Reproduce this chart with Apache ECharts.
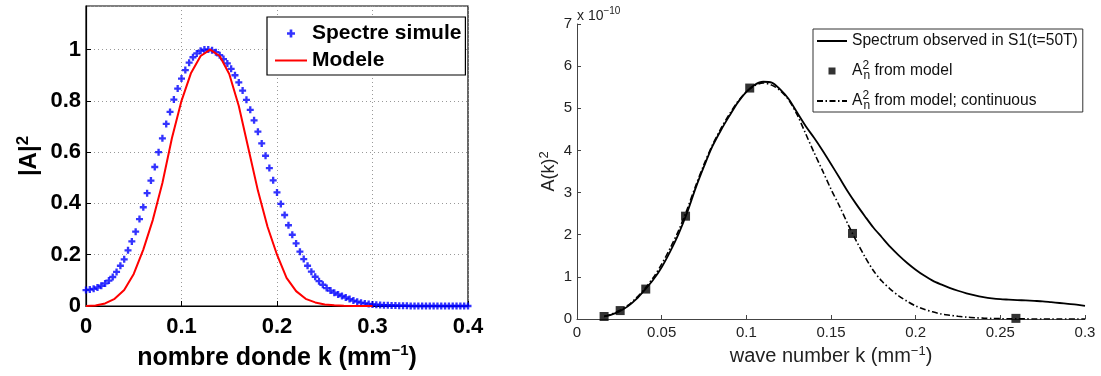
<!DOCTYPE html>
<html>
<head>
<meta charset="utf-8">
<script src="https://cdn.jsdelivr.net/npm/echarts@6/dist/echarts.min.js"></script>
<style>
  html, body { margin: 0; padding: 0; background: #fff; }
  #chart { width: 1101px; height: 376px; }
</style>
</head>
<body>
<div id="chart"></div>
<script>
// left panel: simulated spectrum vs model
const kSim = [0,0.004,0.008,0.012,0.016,0.02,0.024,0.028,0.032,0.036,0.04,0.044,0.048,0.052,0.056,0.06,0.064,0.068,0.072,0.076,
  0.08,0.084,0.088,0.092,0.096,0.1,0.104,0.108,0.112,0.116,0.12,0.124,0.128,0.132,0.136,0.14,0.144,0.148,0.152,0.156,
  0.16,0.164,0.168,0.172,0.176,0.18,0.184,0.188,0.192,0.196,0.2,0.204,0.208,0.212,0.216,0.22,0.224,0.228,0.232,0.236,
  0.24,0.244,0.248,0.252,0.256,0.26,0.264,0.268,0.272,0.276,0.28,0.284,0.288,0.292,0.296,0.3,0.304,0.308,0.312,0.316,
  0.32,0.324,0.328,0.332,0.336,0.34,0.344,0.348,0.352,0.356,0.36,0.364,0.368,0.372,0.376,0.38,0.384,0.388,0.392,0.396,0.4]
const spectreSimule = [0.062,0.064,0.067,0.072,0.079,0.088,0.099,0.113,0.133,0.157,
  0.182,0.217,0.252,0.290,0.339,0.385,0.440,0.489,0.542,0.600,
  0.654,0.710,0.757,0.805,0.848,0.887,0.920,0.949,0.970,0.985,
  0.995,1.000,1.000,0.997,0.990,0.978,0.963,0.946,0.925,0.900,
  0.872,0.840,0.804,0.765,0.724,0.680,0.634,0.586,0.538,0.490,
  0.443,0.398,0.355,0.315,0.278,0.244,0.212,0.183,0.157,0.134,
  0.114,0.097,0.083,0.070,0.060,0.052,0.045,0.039,0.033,0.027,
  0.021,0.017,0.013,0.010,0.008,0.006,0.005,0.004,0.003,0.003,
  0.002,0.002,0.001,0.001,0.001,0,0,0,0,0,
  0,0,0,0,0,0,0,0,0,0,
  0]
const kModele = [0,0.01,0.02,0.03,0.04,0.05,0.06,0.07,0.08,0.09,0.1,0.11,0.12,0.13,0.14,0.15,
  0.16,0.17,0.18,0.19,0.2,0.21,0.22,0.23,0.24,0.25,0.26,0.27,0.28,0.29,0.3]
const modele = [0,0.002,0.010,0.028,0.062,0.125,0.220,0.336,0.480,0.655,0.800,0.909,0.975,1.000,0.975,0.905,
  0.780,0.615,0.450,0.310,0.200,0.110,0.058,0.028,0.014,0.006,0.003,0.001,0,0,0]

// right panel: observed spectrum vs A_n^2
const kObs = [0.016,0.02,0.025,0.03,0.035,0.04,0.045,0.05,0.055,0.06,0.065,0.07,0.075,0.08,0.085,0.09,0.095,0.1,
  0.105,0.11,0.115,0.12,0.125,0.13,0.135,0.14,0.145,0.15,0.155,0.16,0.165,0.17,0.175,0.18,0.185,0.19,0.195,0.2,
  0.205,0.21,0.215,0.22,0.225,0.23,0.235,0.24,0.245,0.25,0.255,0.26,0.265,0.27,0.275,0.28,0.285,0.29,0.295,0.3]
const spectrumObserved = [0.06,0.10,0.18,0.30,0.47,0.69,0.93,1.23,1.60,2.02,2.52,3.10,3.62,4.10,4.48,4.82,5.14,5.39,
  5.56,5.63,5.61,5.45,5.22,4.90,4.58,4.30,4.00,3.68,3.35,3.02,2.72,2.44,2.17,1.94,1.71,1.51,1.33,1.17,
  1.03,0.91,0.82,0.74,0.67,0.61,0.56,0.52,0.49,0.47,0.46,0.45,0.44,0.43,0.42,0.40,0.38,0.36,0.34,0.31]
const modelContinuous = [0.06,0.11,0.20,0.32,0.50,0.72,0.98,1.30,1.68,2.10,2.60,3.15,3.67,4.13,4.52,4.86,5.16,5.39,
  5.54,5.60,5.55,5.42,5.20,4.85,4.40,3.95,3.52,3.08,2.68,2.25,1.85,1.48,1.15,0.90,0.71,0.55,0.42,0.31,
  0.23,0.17,0.12,0.09,0.065,0.045,0.03,0.02,0.013,0.008,0.005,0.003,0.002,0.001,0,0,0,0,0,0]
const kModelPts = [0.016, 0.0255, 0.0406, 0.0641, 0.102, 0.1627, 0.2592]
const modelPts = [0.06, 0.2, 0.71, 2.44, 5.48, 2.03, 0.015]

const pairs = (xs, ys) => xs.map((x, i) => [x, ys[i]])

const FONT = 'Liberation Sans, Arial, sans-serif'
const plusPath = 'path://M2,0H4V2H6V4H4V6H2V4H0V2H2Z'
const squarePath = 'path://M0,0H1V1H0Z'
// hide the dot that line series put in their legend icon
const noDot = { opacity: 0 }

const chart = echarts.init(document.getElementById('chart'))

const option = {
  animation: false,
  backgroundColor: '#fff',
  grid: [
    { left: 86, top: 6, width: 382, height: 300, show: true, borderColor: '#000', borderWidth: 1.2, backgroundColor: 'transparent' },
    { left: 577, top: 24, width: 508, height: 295 }
  ],
  legend: [
    {
      data: [
        { name: 'Spectre simule' },
        { name: 'Modele', itemStyle: noDot }
      ],
      orient: 'vertical',
      left: 267,
      top: 17,
      padding: [6, 4, 4, 7],
      itemGap: 6,
      itemWidth: 32,
      itemHeight: 8,
      symbolKeepAspect: true,
      selectedMode: false,
      borderColor: '#000',
      borderWidth: 1.2,
      backgroundColor: '#fff',
      textStyle: { fontSize: 21, fontWeight: 'bold', fontFamily: FONT, color: '#000', lineHeight: 21 }
    },
    {
      data: [
        { name: 'Spectrum observed in S1(t=50T)', itemStyle: noDot },
        { name: 'A_n^2 from model', icon: squarePath },
        { name: 'A_n^2 from model; continuous', itemStyle: noDot }
      ],
      orient: 'vertical',
      left: 813,
      top: 29,
      padding: [1, 5, 0, 3],
      itemGap: 8,
      itemWidth: 30,
      itemHeight: 7,
      symbolKeepAspect: true,
      selectedMode: false,
      borderColor: '#333',
      borderWidth: 1,
      backgroundColor: '#fff',
      formatter: name => {
        if (name === 'A_n^2 from model') return '{b|A}{sup|2}{sub|n}{b| from model}'
        if (name === 'A_n^2 from model; continuous') return '{b|A}{sup|2}{sub|n}{b| from model; continuous}'
        return name
      },
      textStyle: {
        fontSize: 15.6, fontFamily: FONT, color: '#111', lineHeight: 22,
        rich: {
          b: { fontSize: 15.6, fontFamily: FONT, color: '#111', lineHeight: 22 },
          sup: { fontSize: 12, fontFamily: FONT, color: '#111', lineHeight: 12, verticalAlign: 'top', width: 1 },
          sub: { fontSize: 12, fontFamily: FONT, color: '#111', lineHeight: 2, verticalAlign: 'bottom' }
        }
      }
    }
  ],
  xAxis: [
    {
      gridIndex: 0, type: 'value', min: 0, max: 0.4, interval: 0.1,
      axisLine: { show: true, lineStyle: { color: '#000', width: 1.2 } },
      axisTick: { show: true, inside: true, length: 5, lineStyle: { color: '#000' } },
      axisLabel: { fontSize: 22, fontWeight: 'bold', fontFamily: FONT, color: '#000', margin: 10 },
      splitLine: { show: true, lineStyle: { type: [1, 3], color: '#999' } },
      name: '{b|nombre donde k (mm}{sup|−1}{b|)}',
      nameLocation: 'middle',
      nameGap: 35,
      nameTextStyle: {
        rich: {
          b: { fontSize: 25, fontWeight: 'bold', fontFamily: FONT, color: '#000', lineHeight: 30 },
          sup: { fontSize: 15, fontWeight: 'bold', fontFamily: FONT, color: '#000', lineHeight: 8, verticalAlign: 'top' }
        }
      }
    },
    {
      gridIndex: 1, type: 'value', min: 0, max: 0.3, interval: 0.05,
      axisLine: { show: true, lineStyle: { color: '#444', width: 1 } },
      axisTick: { show: true, inside: true, length: 4, lineStyle: { color: '#444' } },
      axisLabel: { fontSize: 15, fontFamily: FONT, color: '#222', margin: 6 },
      splitLine: { show: false },
      name: '{b|wave number k (mm}{sup|−1}{b|)}',
      nameLocation: 'middle',
      nameGap: 23,
      nameTextStyle: {
        rich: {
          b: { fontSize: 20, fontFamily: FONT, color: '#222', lineHeight: 24 },
          sup: { fontSize: 13, fontFamily: FONT, color: '#222', lineHeight: 6, verticalAlign: 'top' }
        }
      }
    }
  ],
  yAxis: [
    {
      gridIndex: 0, type: 'value', min: 0, max: 1.17, interval: 0.2,
      axisLine: { show: true, lineStyle: { color: '#000', width: 1.2 } },
      axisTick: { show: true, inside: true, length: 5, lineStyle: { color: '#000' } },
      axisLabel: { fontSize: 22, fontWeight: 'bold', fontFamily: FONT, color: '#000', margin: 5, showMaxLabel: false },
      splitLine: { show: true, lineStyle: { type: [1, 3], color: '#999' } },
      name: '{b||A|}{sup|2}',
      nameLocation: 'middle',
      nameRotate: 90,
      nameGap: 43,
      nameTextStyle: {
        rich: {
          b: { fontSize: 24, fontWeight: 'bold', fontFamily: FONT, color: '#000', lineHeight: 28 },
          sup: { fontSize: 17, fontWeight: 'bold', fontFamily: FONT, color: '#000', lineHeight: 10, verticalAlign: 'top' }
        }
      }
    },
    {
      gridIndex: 1, type: 'value', min: 0, max: 7, interval: 1,
      axisLine: { show: true, lineStyle: { color: '#444', width: 1 } },
      axisTick: { show: true, inside: true, length: 4, lineStyle: { color: '#444' } },
      axisLabel: { fontSize: 15, fontFamily: FONT, color: '#222', margin: 5 },
      splitLine: { show: false },
      name: '{b|A(k)}{sup|2}',
      nameLocation: 'middle',
      nameRotate: 90,
      nameGap: 17,
      nameTextStyle: {
        rich: {
          b: { fontSize: 18, fontFamily: FONT, color: '#222', lineHeight: 22 },
          sup: { fontSize: 13, fontFamily: FONT, color: '#222', lineHeight: 8, verticalAlign: 'top' }
        }
      }
    }
  ],
  graphic: [
    {
      type: 'text',
      left: 577,
      top: 6,
      style: {
        text: 'x 10{sup|−10}',
        fontSize: 14,
        fontFamily: FONT,
        fill: '#222',
        lineHeight: 20,
        rich: {
          sup: { fontSize: 10, fontFamily: FONT, fill: '#222', lineHeight: 2, verticalAlign: 'top' }
        }
      }
    }
  ],
  series: [
    {
      name: 'Spectre simule',
      type: 'scatter',
      xAxisIndex: 0, yAxisIndex: 0,
      symbol: plusPath,
      symbolSize: 7,
      itemStyle: { color: '#0000ff' },
      data: pairs(kSim, spectreSimule),
      z: 2
    },
    {
      name: 'Modele',
      type: 'line',
      xAxisIndex: 0, yAxisIndex: 0,
      showSymbol: false,
      symbol: 'none',
      lineStyle: { color: '#ff0000', width: 2 },
      itemStyle: { color: '#ff0000' },
      data: pairs(kModele, modele),
      z: 3
    },
    {
      name: 'Spectrum observed in S1(t=50T)',
      type: 'line',
      xAxisIndex: 1, yAxisIndex: 1,
      showSymbol: false,
      symbol: 'none',
      smooth: 0.3,
      lineStyle: { color: '#000', width: 1.8 },
      itemStyle: { color: '#000' },
      data: pairs(kObs, spectrumObserved)
    },
    {
      name: 'A_n^2 from model',
      type: 'scatter',
      xAxisIndex: 1, yAxisIndex: 1,
      symbol: 'rect',
      symbolSize: 9,
      itemStyle: { color: '#000' },
      data: pairs(kModelPts, modelPts),
      z: 4
    },
    {
      name: 'A_n^2 from model; continuous',
      type: 'line',
      xAxisIndex: 1, yAxisIndex: 1,
      showSymbol: false,
      symbol: 'none',
      smooth: 0.3,
      lineStyle: { color: '#000', width: 1.6, type: [6, 2.5, 1.5, 2.5] },
      itemStyle: { color: '#000' },
      data: pairs(kObs, modelContinuous)
    }
  ]
}

chart.setOption(option)
window.addEventListener('resize', () => chart.resize())
</script>
</body>
</html>
